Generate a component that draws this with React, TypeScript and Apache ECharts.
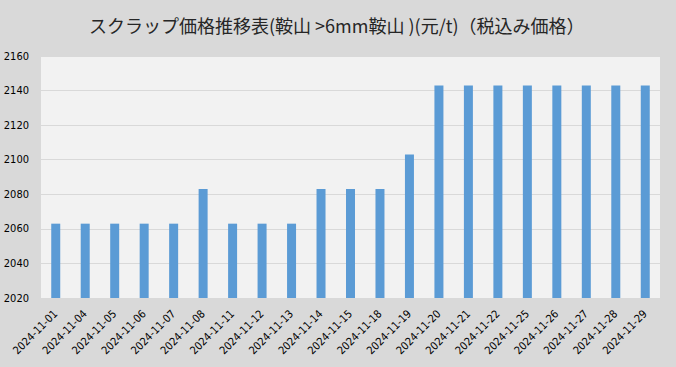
import React, { useEffect, useRef } from "react";
import * as echarts from "echarts";

const titleText = "スクラップ価格推移表(鞍山 >6mm鞍山 )(元/t)（税込み価格）";
const dates = [
  "2024-11-01", "2024-11-04", "2024-11-05", "2024-11-06", "2024-11-07",
  "2024-11-08", "2024-11-11", "2024-11-12", "2024-11-13", "2024-11-14",
  "2024-11-15", "2024-11-18", "2024-11-19", "2024-11-20", "2024-11-21",
  "2024-11-22", "2024-11-25", "2024-11-26", "2024-11-27", "2024-11-28",
  "2024-11-29",
];
const prices = [
  2063, 2063, 2063, 2063, 2063,
  2083, 2063, 2063, 2063, 2083,
  2083, 2083, 2103, 2143, 2143,
  2143, 2143, 2143, 2143, 2143,
  2143,
];
const yMin = 2020;
const yMax = 2160;
const yStep = 20;

const labelFont = "'DejaVu Sans Condensed', 'Liberation Sans Narrow', 'Noto Sans', sans-serif";

export default function App() {
  const ref = useRef<HTMLDivElement>(null);
  useEffect(() => {
    if (!ref.current) return;
    const chart = echarts.init(ref.current, undefined, { renderer: "svg" });
    chart.setOption({
      animation: false,
      backgroundColor: "#d9d9d9",
      title: {
        text: titleText,
        left: 84,
        top: 11,
        textStyle: {
          fontFamily: "Noto Sans CJK JP",
          fontSize: 18,
          fontWeight: "normal",
          color: "#262626",
        },
      },
      grid: {
        left: 41,
        right: 16,
        top: 56,
        bottom: 69,
        show: true,
        backgroundColor: "#f2f2f2",
        borderWidth: 0,
      },
      xAxis: {
        type: "category",
        data: dates,
        axisLine: { show: false },
        axisTick: { show: false },
        axisLabel: {
          rotate: 45,
          interval: 0,
          margin: 14,
          fontSize: 11,
          fontFamily: labelFont,
          color: "#000",
        },
      },
      yAxis: {
        type: "value",
        min: yMin,
        max: yMax,
        interval: yStep,
        axisLine: { show: false },
        axisTick: { show: false },
        splitLine: { lineStyle: { color: "#d9d9d9", width: 1 } },
        axisLabel: {
          margin: 12,
          fontSize: 11,
          fontFamily: labelFont,
          color: "#000",
          formatter: (v: number) => String(v),
        },
      },
      series: [
        {
          type: "bar",
          data: prices,
          barWidth: 9,
          itemStyle: { color: "#5b9bd5" },
        },
      ],
    });
    return () => chart.dispose();
  }, []);
  return <div ref={ref} style={{ width: 676, height: 367, position: "absolute", left: 0, top: 0 }} />;
}
